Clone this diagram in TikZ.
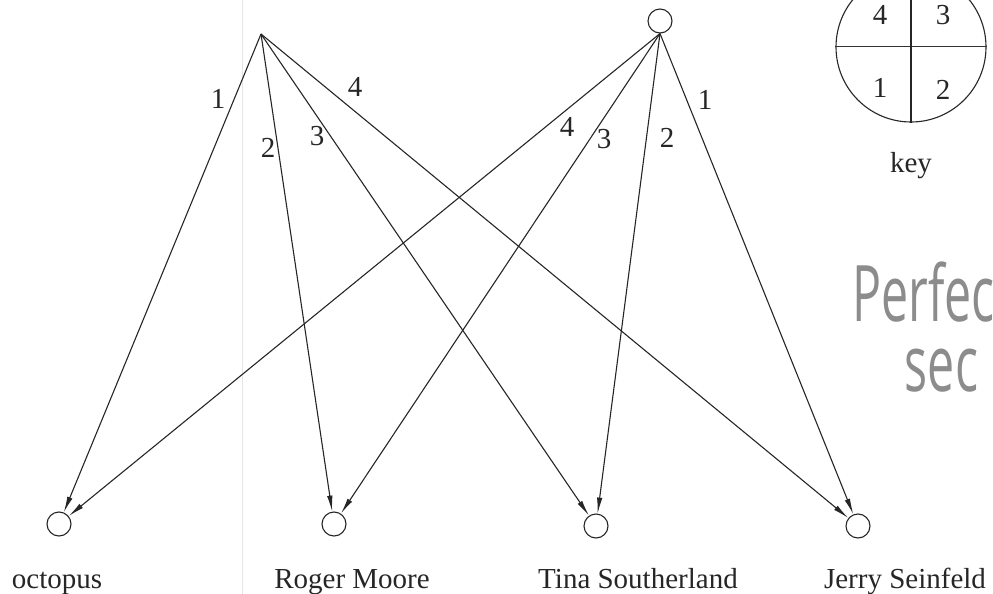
\documentclass[tikz,border=0pt]{standalone}
\usepackage{fontspec}
\setmainfont{Liberation Serif}
\newfontfamily\handfont{Open Sans}
\usetikzlibrary{arrows.meta}
\tikzset{
  vert/.style={circle,draw=black!85,line width=1.1pt,minimum size=24pt,inner sep=0pt},
  lbl/.style={font=\fontsize{29}{33}\selectfont,text=black!85,inner sep=0pt},
  conn/.style={draw=black!85,line width=1.1pt,-{Latex[length=16pt,width=5.5pt]}},
  hand/.style={font=\handfont\fontsize{78}{70}\selectfont,text=black!45,inner sep=0pt,xscale=0.62,align=left}
}
\begin{document}
\begin{tikzpicture}[x=1pt,y=-1pt]
\useasboundingbox (0,0) rectangle (993,594);
% faint scan line
\draw[black!10,line width=0.8pt] (242,0) -- (242,594);
% sources
\coordinate (s1) at (261,34);
\node[vert] (s2) at (660,21) {};
% targets
\node[vert] (t1) at (59,524) {};
\node[vert] (t2) at (334,524) {};
\node[vert] (t3) at (596,526) {};
\node[vert] (t4) at (858,526) {};
% target names
\node[lbl,anchor=base] (n1) at (57,588) {octopus};
\node[lbl,anchor=base] (n2) at (352,588) {Roger Moore};
\node[lbl,anchor=base] (n3) at (638,588) {Tina Southerland};
\node[lbl,anchor=base] (n4) at (905,588) {Jerry Seinfeld};
% edges from s1
\draw[conn] (s1) -- (t1);
\draw[conn] (s1) -- (t2);
\draw[conn] (s1) -- (t3);
\draw[conn] (s1) -- (t4);
% edges from s2
\draw[conn] (s2.south) -- (t1);
\draw[conn] (s2.south) -- (t2);
\draw[conn] (s2.south) -- (t3);
\draw[conn] (s2.south) -- (t4);
% edge labels
\node[lbl] (a1) at (218,99) {1};
\node[lbl] (a2) at (268,148) {2};
\node[lbl] (a3) at (317,136) {3};
\node[lbl] (a4) at (355,87) {4};
\node[lbl] (b4) at (567,127) {4};
\node[lbl] (b3) at (604,139) {3};
\node[lbl] (b2) at (667,138) {2};
\node[lbl] (b1) at (705,100) {1};
% key
\node[circle,draw=black!85,line width=1.1pt,minimum size=150pt,inner sep=0pt] (key) at (911,47) {};
\draw[black!80,line width=1pt] (key.west) -- (key.east);
\draw[black!85,line width=1.1pt] (key.north) -- (key.south);
\node[lbl] (k4) at (880,15) {4};
\node[lbl] (k3) at (943,15) {3};
\node[lbl] (k1) at (880,88) {1};
\node[lbl] (k2) at (943,90) {2};
\node[lbl] (keytxt) at (911,166) {key};
% handwriting
\node[hand,anchor=north west] (h1) at (852,262) {Perfec\\\hspace*{85pt}sec};
\end{tikzpicture}
\end{document}
